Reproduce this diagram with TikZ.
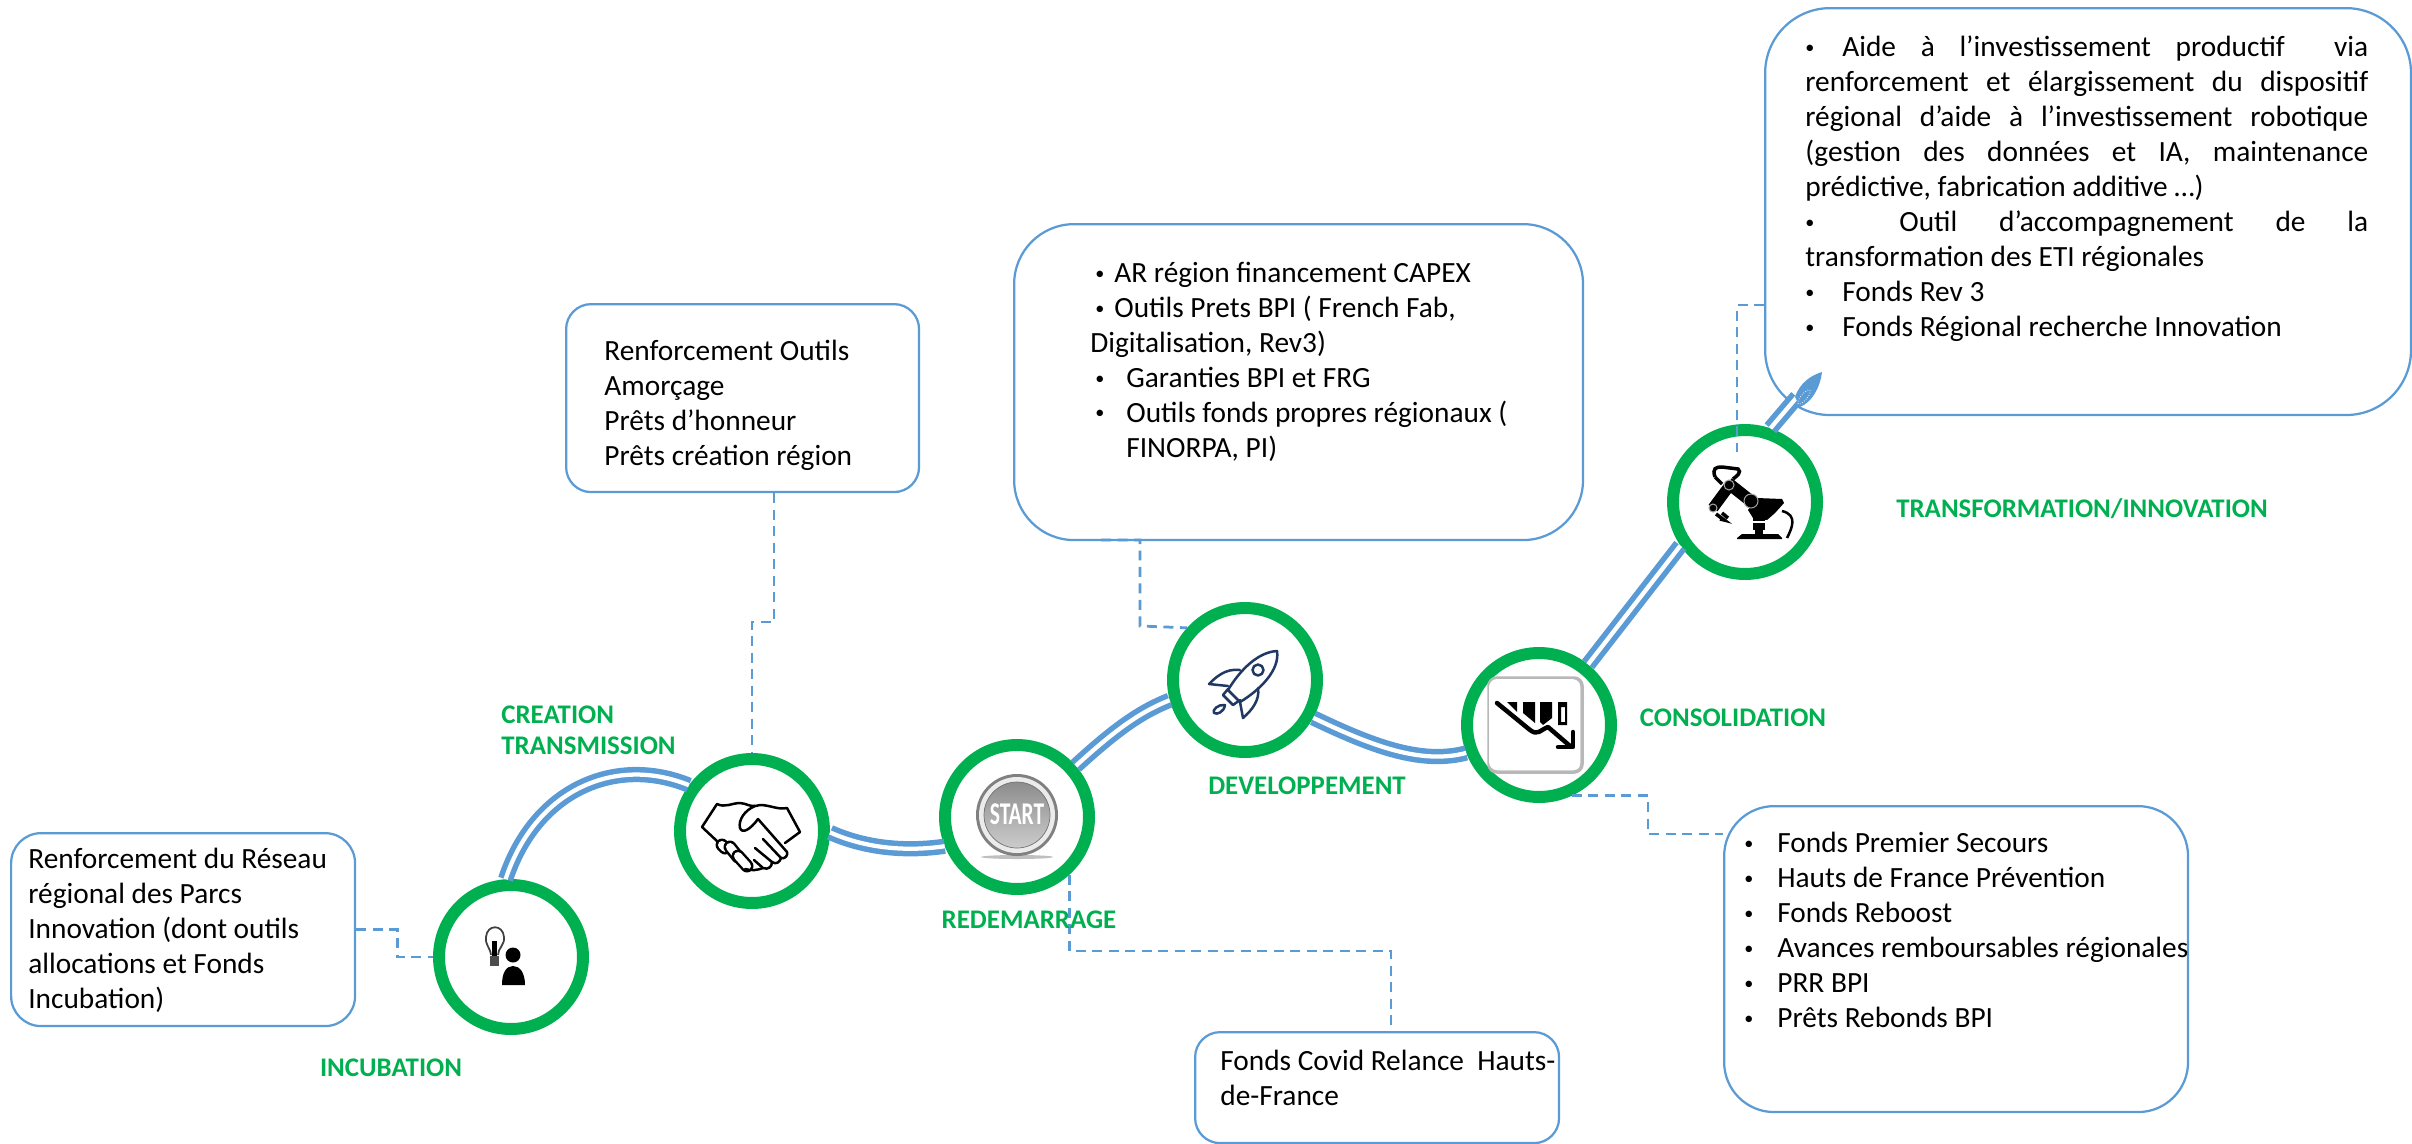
\documentclass[tikz,border=0pt]{standalone}
\usepackage{fontspec}
\setmainfont{Carlito}
\definecolor{roadblue}{HTML}{5B9BD5}
\definecolor{ringgreen}{HTML}{00B050}
\definecolor{rocketnavy}{HTML}{1F3864}
\newcommand{\puce}[1]{\makebox[#1][l]{\raisebox{0.12em}{\scalebox{0.62}{\textbullet}}}}
\newcommand{\jline}[1]{\leavevmode\hbox to 11.26cm{#1}}
\tikzset{
    ring/.style={circle, draw=ringgreen, fill=white, line width=0.24cm, minimum size=2.88cm, inner sep=0pt},
    panel/.style={draw=roadblue, line width=0.045cm, anchor=north west, inner sep=0pt},
    road/.style={draw=roadblue, line width=0.11cm, double=white, double distance=0.085cm},
    dashlink/.style={draw=roadblue, line width=0.055cm, dash pattern=on 0.2cm off 0.13cm},
    txt/.style={anchor=north west, inner sep=0pt, align=left, font=\fontsize{16.7}{19.9}\selectfont, execute at begin node={\spaceskip=0pt\xspaceskip=0pt\strut}},
    stage/.style={text=ringgreen, inner sep=0pt, font=\fontsize{15.3}{18}\selectfont\bfseries},
    hand/.style={line width=0.05cm, line join=round, line cap=round},
}

\begin{document}
\begin{tikzpicture}[x=0.02cm, y=-0.02cm]
    \useasboundingbox (0,0) rectangle (2412,1143);

    \node[panel, minimum width=6.88cm, minimum height=3.86cm, rounded corners=0.6cm] (boxA) at (10,832) {};
    \node[panel, minimum width=7.06cm, minimum height=3.76cm, rounded corners=0.5cm] (boxB) at (565,303) {};
    \node[panel, minimum width=11.38cm, minimum height=6.32cm, rounded corners=1.2cm] (boxC) at (1013,223) {};
    \node[panel, minimum width=7.28cm, minimum height=2.22cm, rounded corners=0.5cm] (boxD) at (1194,1031) {};
    \node[panel, minimum width=9.28cm, minimum height=6.12cm, rounded corners=1cm] (boxE) at (1723,805) {};
    \node[panel, minimum width=12.92cm, minimum height=8.14cm, rounded corners=1.3cm] (boxF) at (1764,7) {};

    \node[txt] (txtA) at (28,848) {Renforcement du Réseau\\régional des Parcs\\Innovation (dont outils\\allocations et Fonds\\Incubation)};
    \node[txt] (txtB) at (604,340) {Renforcement Outils\\Amorçage\\Prêts d’honneur\\Prêts création région};
    \node[txt] (txtC) at (1090,262) {\hspace*{0.1cm}\puce{0.38cm}AR région financement CAPEX\\\hspace*{0.1cm}\puce{0.38cm}Outils Prets BPI ( French Fab,\\Digitalisation, Rev3)\\\hspace*{0.1cm}\puce{0.62cm}Garanties BPI et FRG\\\hspace*{0.1cm}\puce{0.62cm}Outils fonds propres régionaux (\\\hspace*{0.72cm}FINORPA, PI)};
    \node[txt] (txtD) at (1220,1050) {Fonds Covid Relance\ \ Hauts-\\de-France};
    \node[txt] (txtE) at (1744,832) {\puce{0.66cm}Fonds Premier Secours\\\puce{0.66cm}Hauts de France Prévention\\\puce{0.66cm}Fonds Reboost\\\puce{0.66cm}Avances remboursables régionales\\\puce{0.66cm}PRR BPI\\\puce{0.66cm}Prêts Rebonds BPI};
    \node[txt, text width=11.26cm] (txtF) at (1805,32) {\jline{\puce{0.74cm}Aide à l’investissement productif\ \ via}\\\jline{renforcement et élargissement du dispositif}\\\jline{régional d’aide à l’investissement robotique}\\\jline{(gestion des données et IA, maintenance}\\prédictive, fabrication additive …)\\\jline{\puce{1.88cm}Outil d’accompagnement de la}\\transformation des ETI régionales\\\puce{0.74cm}Fonds Rev 3\\\puce{0.74cm}Fonds Régional recherche Innovation};

    \node[ring] (c1) at (511,957) {};
    \node[ring] (c2) at (752,831) {};
    \node[ring] (c3) at (1017,817) {};
    \node[ring] (c4) at (1245,680) {};
    \node[ring] (c5) at (1539,725) {};
    \node[ring] (c6) at (1745,502) {};

    % road between the stages
    \coordinate (tipF) at (1797,397);
    \draw[road] (c1.94) .. controls (535,790) and (615,755) .. (c2.144);
    \draw[road] (c2.-1) .. controls (865,848) and (905,852) .. (c3.202);
    \draw[road] (c3.41) .. controls (1115,730) and (1140,712) .. (c4.195);
    \draw[road] (c4.-29) .. controls (1370,745) and (1420,765) .. (c5.201);
    \draw[road] (c5.51) -- (c6.214);
    \draw[road] (c6.71) -- (tipF);
    \fill[roadblue] (1822,372) .. controls (1812,375) and (1800,382) .. (1795,397) -- (1800,407) .. controls (1812,402) and (1820,388) .. cycle;
    \draw[white, line width=0.015cm, densely dotted] (1804,397) ellipse [x radius=3, y radius=9, rotate=-40];

    % dashed links
    \coordinate (jB) at (774,622);
    \coordinate (jC0) at (1101,540);
    \coordinate (jC) at (1140,626);
    \coordinate (jD) at (1391,951);
    \coordinate (jE) at (1648,834);
    \coordinate (jF) at (1737,305);
    \coordinate (jF2) at (1737,452);
    \draw[dashlink] (boxA.east) -- ++(41,0) |- (c1.west);
    \draw[dashlink] (jB |- boxB.south) -- (jB) -| (c2.north);
    \draw[dashlink] (jC0) -- (jC |- jC0) -- (jC) -- (c4.138);
    \draw[dashlink] (c3.-48) |- (jD) -- (jD |- boxD.north);
    \draw[dashlink] (c5.-65) -| (jE) -- (jE -| boxE.west);
    \draw[dashlink] (jF -| boxF.west) -- (jF) -- (jF2);

    \node[stage] (lblA) at (391,1068) {INCUBATION};
    \node[stage, anchor=west] (lblB) at (501,715) {CREATION};
    \node[stage, anchor=west] (lblB2) at (501,746) {TRANSMISSION};
    \node[stage] (lblC) at (1029,920) {REDEMARRAGE};
    \node[stage] (lblD) at (1307,786) {DEVELOPPEMENT};
    \node[stage] (lblE) at (1733,718) {CONSOLIDATION};
    \node[stage] (lblF) at (2082,509) {TRANSFORMATION/INNOVATION};

    % bulb and person
    \draw[black!75, line width=0.035cm] (491,955) .. controls (490,947) and (485,945) .. (486,937) .. controls (487,924) and (503,924) .. (504,937) .. controls (505,945) and (498,948) .. (498,955);
    \fill[black] (492,941) rectangle (497,956);
    \fill[black!70] (490,956) rectangle (499,966);
    \fill[black] (513,955) circle [radius=7.5];
    \fill[black] (502,985) .. controls (502,973) and (506,966) .. (513,966) .. controls (520,966) and (525,973) .. (525,985) -- cycle;

    % handshake
    \draw[hand] (702,827) -- (717,804) .. controls (725,808) and (732,803) .. (740,803) .. controls (746,803) and (750,808) .. (760,805) .. controls (770,805) and (778,810) .. (787,808) -- (800,832) -- (785,843);
    \draw[hand] (702,827) -- (718,842);
    \draw[hand] (755,806) .. controls (745,810) and (738,820) .. (740,828) .. controls (742,834) and (750,830) .. (758,819) -- (787,852) .. controls (788,856) and (785,859) .. (781,858) -- (763,839);
    \draw[hand] (781,858) .. controls (780,862) and (776,865) .. (772,862) -- (755,848);
    \draw[hand] (772,862) .. controls (772,867) and (768,870) .. (763,868) -- (754,860);
    \draw[hand, line width=0.05cm, double=white, double distance=0.16cm] (722,845) -- (725,848);
    \draw[hand, line width=0.05cm, double=white, double distance=0.16cm] (730,847) -- (738,857);
    \draw[hand, line width=0.05cm, double=white, double distance=0.16cm] (738,856) -- (747,866);
    \draw[hand] (745,869) .. controls (752,871) and (758,870) .. (763,868);

    % start button
    \fill[black!25] (1017,857) ellipse [x radius=36, y radius=2];
    \fill[black!50] (1017,815) circle [radius=41];
    \fill[black!8] (1017,815) circle [radius=38];
    \shade[top color=black!45, bottom color=black!20, draw=black!55] (1017,815) circle [radius=33];
    \node[text=white, font=\fontsize{18}{18}\selectfont\bfseries, xscale=0.68, transform shape, inner sep=0pt] (startlbl) at (1017,814) {START};

    % rocket
    \draw[hand, rocketnavy] (1277,651) .. controls (1258,652) and (1240,670) .. (1228,690) -- (1240,702) .. controls (1260,690) and (1280,670) .. (1277,651) -- cycle;
    \draw[hand, rocketnavy] (1258,670) circle [radius=5.5];
    \draw[hand, rocketnavy] (1240,670) .. controls (1225,668) and (1215,678) .. (1209,684) -- (1228,686);
    \draw[hand, rocketnavy] (1258,688) .. controls (1260,700) and (1252,710) .. (1243,718) -- (1240,702);
    \draw[hand, rocketnavy] (1228,689) -- (1223,695) -- (1233,705) -- (1240,700);
    \draw[hand, rocketnavy] (1225,705) .. controls (1218,704) and (1212,710) .. (1214,713) .. controls (1217,715) and (1224,712) .. (1225,705) -- cycle;

    % falling chart
    \draw[black!28, line width=0.07cm, rounded corners=0.16cm] (1489,678) rectangle (1582,772);
    \fill[white, rounded corners=0.16cm] (1489,679) rectangle (1580,770);
    \fill[black] (1507,702) -- (1517,702) -- (1517,712) -- cycle;
    \fill[black] (1523,702) -- (1535,702) -- (1535,723) -- (1523,713) -- cycle;
    \fill[black] (1540,702) -- (1552,702) -- (1552,718) -- (1543,725) -- (1540,722) -- cycle;
    \fill[black, even odd rule] (1558,702) rectangle (1567,725) (1561,707) rectangle (1565,722);
    \draw[hand, line width=0.09cm] (1497,703) -- (1530,730) .. controls (1538,736) and (1540,730) .. (1548,727) -- (1570,746);
    \draw[hand, line width=0.09cm] (1573,732) -- (1573,747) -- (1558,747);

    % robot arm
    \fill[black] (1737,538) -- (1742,534) -- (1778,534) -- (1782,538) -- (1782,539) -- (1737,539) -- cycle;
    \fill[black] (1753,514) rectangle (1765,521);
    \fill[black] (1753,523) rectangle (1765,530);
    \fill[black] (1755,530) rectangle (1763,534);
    \fill[black] (1757,498) -- (1782,499) -- (1784,503) -- (1775,513) -- (1767,520) -- (1753,518) -- (1748,510) -- cycle;
    \draw[black, line width=0.24cm] (1728,483) -- (1752,502);
    \draw[black, line width=0.22cm] (1730,485) -- (1713,508);
    \draw[black, line width=0.07cm] (1715,477) .. controls (1712,468) and (1716,467) .. (1722,467) -- (1738,469) .. controls (1742,472) and (1737,476) .. (1733,479);
    \draw[black, line width=0.07cm] (1715,477) -- (1722,484);
    \draw[black, line width=0.07cm] (1716,514) -- (1724,520) -- (1720,519) (1722,513) -- (1728,518);
    \draw[black, line width=0.05cm] (1782,511) .. controls (1798,515) and (1792,528) .. (1787,538);
    \draw[black!35, line width=0.02cm, fill=black] (1729,485) circle [radius=5];
    \draw[black!35, line width=0.02cm, fill=black] (1751,501) circle [radius=7];
    \draw[black!35, line width=0.02cm, fill=black] (1713,508) circle [radius=4];
\end{tikzpicture}
\end{document}
